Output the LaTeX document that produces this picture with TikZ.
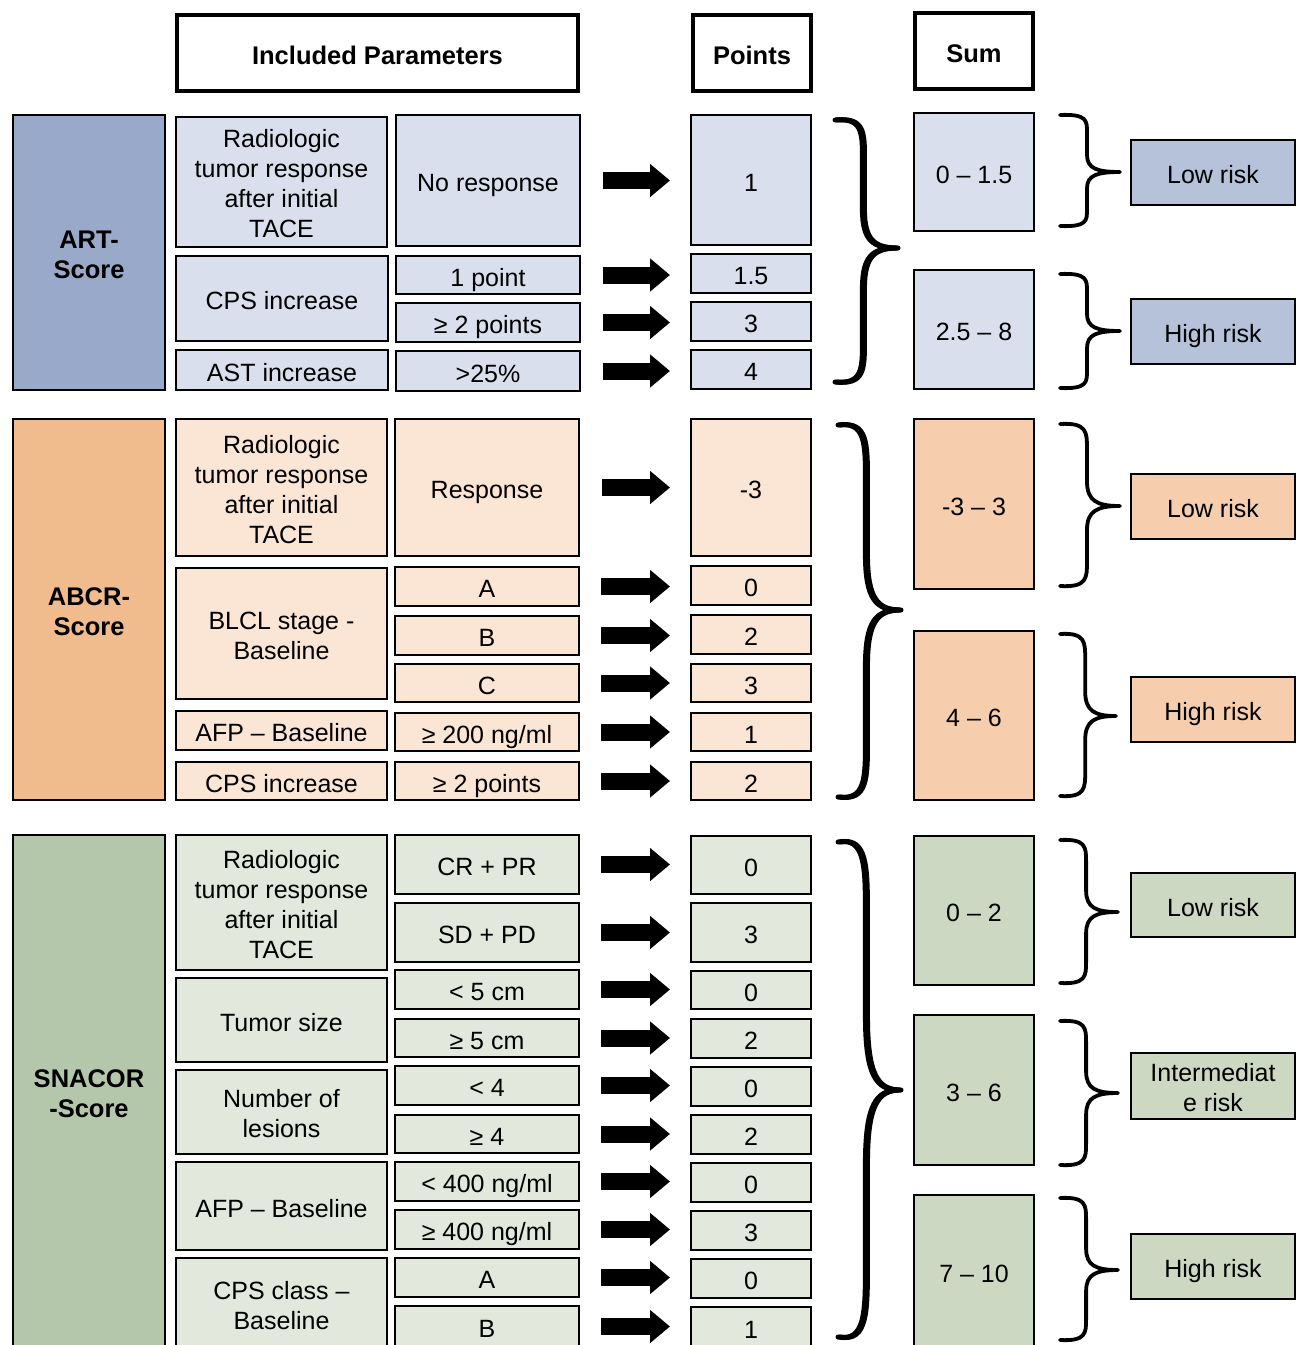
\documentclass[tikz,border=0pt]{standalone}
\usepackage{fontspec}
\setmainfont{Liberation Sans}
\usetikzlibrary{arrows.meta,calc}
\definecolor{artD}{HTML}{98A9C9}
\definecolor{artL}{HTML}{D9DFEC}
\definecolor{artM}{HTML}{B6C2DA}
\definecolor{abcD}{HTML}{F0BB8D}
\definecolor{abcL}{HTML}{FBE5D5}
\definecolor{abcM}{HTML}{F6CEAE}
\definecolor{snaD}{HTML}{B5C7AA}
\definecolor{snaL}{HTML}{E2E9DC}
\definecolor{snaM}{HTML}{CDD8C3}
\newcommand\mystrut{\rule[-5.5pt]{0pt}{33pt}}
\newcommand\tstrut{\rule{0pt}{27pt}}
\newcommand\bstrut{\rule[-5.5pt]{0pt}{5.5pt}}
\tikzset{
  box/.style={draw=black,line width=1.5pt,inner sep=1pt,outer sep=0pt,align=center,
    font=\fontsize{25}{30}\selectfont,
    execute at begin node=\mystrut, execute at end node=\mystrut},
  hdr/.style={line width=4pt,fill=white,font=\fontsize{25.5}{30}\selectfont\bfseries},
  lbl/.style={font=\fontsize{25.5}{30}\selectfont\bfseries},
  bigarrow/.style={line width=17pt,-{Triangle[length=20pt,width=32pt]}},
}
% name, x1, y1, x2, y2, style, text
\newcommand\bx[7]{\node[box,#6,minimum width={(#4-#2)*1pt},minimum height={(#5-#3)*1pt}]
  (#1) at ({(#2+#4)/2},{(#3+#5)/2}) {#7};}
% arrow from value node to points node
\newcommand\arr[3]{\draw[bigarrow] ($(#1.east)+(#3,0)$) -- ($(#2.west |- #1.east)+(-21,0)$);}
% brace: x0, ytop, ybot, ymid, tipx, linewidth
\newcommand\cbrace[6]{%
  \pgfmathsetmacro\bxm{#1+0.45*(#5-#1)}%
  \pgfmathsetmacro\bxq{#1+0.62*(#5-#1)}%
  \pgfmathsetmacro\hu{#4-#2}%
  \pgfmathsetmacro\hd{#3-#4}%
  \draw[line width=#6pt,line cap=round,line join=round]
  (#1,#2) .. controls (\bxm,{#2-0.02*\hu}) and (\bxm,{#2+0.1*\hu}) .. (\bxm,{#2+0.3*\hu})
  -- (\bxm,{#4-0.3*\hu}) .. controls (\bxm,{#4-0.06*\hu}) and (\bxq,#4) .. (#5,#4)
  .. controls (\bxq,#4) and (\bxm,{#4+0.06*\hd}) .. (\bxm,{#4+0.3*\hd})
  -- (\bxm,{#3-0.3*\hd}) .. controls (\bxm,{#3-0.1*\hd}) and (\bxm,{#3+0.02*\hd}) .. (#1,#3);
}
% calligraphic big brace: drawn twice with a small horizontal offset
\newcommand\bigbrace[5]{%
  \cbrace{#1}{#2}{#3}{#4}{#5}{5}%
  \begin{scope}[xshift=2pt]\cbrace{#1}{#2}{#3}{#4}{#5}{5}\end{scope}%
}
\newcommand\radtext{\tstrut Radiologic\\tumor response\\after initial\\TACE\bstrut}
\begin{document}
\begin{tikzpicture}[x=1pt,y=-1pt]
\path[use as bounding box] (0,0) rectangle (1299,1345);
\clip (0,0) rectangle (1299,1345);
\fill[white] (0,0) rectangle (1299,1345);

% headers
\bx{h1}{177}{15}{578}{91}{hdr}{Included Parameters}
\bx{h2}{693}{15}{811}{91}{hdr}{Points}
\bx{h3}{915}{13}{1033}{89}{hdr}{Sum}

% ---------------- ART ----------------
\bx{artS}{13}{115}{165}{390}{fill=artD,lbl}{\tstrut ART-\\Score\bstrut}
\bx{a1p}{176}{117}{387}{247}{fill=artL}{\radtext}
\bx{a1v}{396}{115}{580}{246}{fill=artL}{No response}
\bx{a2p}{176}{256}{388}{341}{fill=artL}{CPS increase}
\bx{a2v}{396}{256}{580}{294}{fill=artL}{1 point}
\bx{a3v}{396}{303}{580}{342}{fill=artL}{≥ 2 points}
\bx{a4p}{176}{350}{388}{390}{fill=artL}{AST increase}
\bx{a4v}{396}{351}{580}{391}{fill=artL}{>25\%}
\bx{a1n}{691}{115}{811}{245}{fill=artL}{1}
\bx{a2n}{691}{254}{811}{293}{fill=artL}{1.5}
\bx{a3n}{691}{302}{811}{341}{fill=artL}{3}
\bx{a4n}{691}{350}{811}{389}{fill=artL}{4}
\arr{a1v}{a1n}{23}\arr{a2v}{a2n}{23}\arr{a3v}{a3n}{23}\arr{a4v}{a4n}{23}
\bx{as1}{914}{113}{1034}{231}{fill=artL}{0 – 1.5}
\bx{as2}{914}{270}{1034}{389}{fill=artL}{2.5 – 8}
\bx{ar1}{1131}{140}{1295}{205}{fill=artM}{Low risk}
\bx{ar2}{1131}{299}{1295}{364}{fill=artM}{High risk}
\bigbrace{835}{120}{382}{248}{896}
\cbrace{1060}{115}{226}{172}{1120}{3.8}
\cbrace{1060}{274}{388}{331}{1120}{3.8}

% ---------------- ABCR ----------------
\bx{abcS}{13}{419}{165}{800}{fill=abcD,lbl}{\tstrut ABCR-\\Score\bstrut}
\bx{b1p}{176}{419}{387}{556}{fill=abcL}{\radtext}
\bx{b1v}{395}{419}{579}{556}{fill=abcL}{Response}
\bx{b2p}{176}{568}{387}{699}{fill=abcL}{\tstrut BLCL stage -\\Baseline\bstrut}
\bx{b2v}{395}{567}{579}{606}{fill=abcL}{A}
\bx{b3v}{395}{616}{579}{655}{fill=abcL}{B}
\bx{b4v}{395}{664}{579}{702}{fill=abcL}{C}
\bx{b5p}{176}{711}{387}{750}{fill=abcL}{AFP – Baseline}
\bx{b5v}{395}{713}{579}{751}{fill=abcL}{≥ 200 ng/ml}
\bx{b6p}{176}{762}{387}{800}{fill=abcL}{CPS increase}
\bx{b6v}{395}{762}{579}{800}{fill=abcL}{≥ 2 points}
\bx{b1n}{691}{419}{811}{556}{fill=abcL}{-3}
\bx{b2n}{691}{566}{811}{605}{fill=abcL}{0}
\bx{b3n}{691}{615}{811}{654}{fill=abcL}{2}
\bx{b4n}{691}{664}{811}{702}{fill=abcL}{3}
\bx{b5n}{691}{713}{811}{751}{fill=abcL}{1}
\bx{b6n}{691}{762}{811}{800}{fill=abcL}{2}
\arr{b1v}{b1n}{23}\arr{b2v}{b2n}{22}\arr{b3v}{b3n}{22}\arr{b4v}{b4n}{22}\arr{b5v}{b5n}{22}\arr{b6v}{b6n}{22}
\bx{bs1}{914}{419}{1034}{589}{fill=abcM}{-3 – 3}
\bx{bs2}{914}{631}{1034}{800}{fill=abcM}{4 – 6}
\bx{br1}{1131}{474}{1295}{539}{fill=abcM}{Low risk}
\bx{br2}{1131}{677}{1295}{742}{fill=abcM}{High risk}
\bigbrace{838}{425}{797}{610}{899}
\cbrace{1060}{424}{586}{506}{1120}{3.8}
\cbrace{1060}{634}{796}{716}{1116}{3.8}

% ---------------- SNACOR ----------------
\bx{snaS}{13}{835}{165}{1349}{fill=snaD,lbl}{\tstrut SNACOR\\-Score\bstrut}
\bx{c1p}{176}{835}{387}{970}{fill=snaL}{\radtext}
\bx{c1v}{395}{835}{579}{894}{fill=snaL}{CR + PR}
\bx{c2v}{395}{903}{579}{962}{fill=snaL}{SD + PD}
\bx{c3p}{176}{978}{387}{1062}{fill=snaL}{Tumor size}
\bx{c3v}{395}{970}{579}{1009}{fill=snaL}{< 5 cm}
\bx{c4v}{395}{1019}{579}{1057}{fill=snaL}{≥ 5 cm}
\bx{c5p}{176}{1070}{387}{1154}{fill=snaL}{\tstrut Number of\\lesions\bstrut}
\bx{c5v}{395}{1066}{579}{1105}{fill=snaL}{< 4}
\bx{c6v}{395}{1115}{579}{1153}{fill=snaL}{≥ 4}
\bx{c7p}{176}{1162}{387}{1250}{fill=snaL}{AFP – Baseline}
\bx{c7v}{395}{1162}{579}{1201}{fill=snaL}{< 400 ng/ml}
\bx{c8v}{395}{1210}{579}{1249}{fill=snaL}{≥ 400 ng/ml}
\bx{c9p}{176}{1258}{387}{1350}{fill=snaL}{\tstrut CPS class –\\Baseline\bstrut}
\bx{c9v}{395}{1258}{579}{1297}{fill=snaL}{A}
\bx{c10v}{395}{1306}{579}{1347}{fill=snaL}{B}
\bx{c1n}{691}{836}{811}{894}{fill=snaL}{0}
\bx{c2n}{691}{903}{811}{962}{fill=snaL}{3}
\bx{c3n}{691}{971}{811}{1009}{fill=snaL}{0}
\bx{c4n}{691}{1019}{811}{1058}{fill=snaL}{2}
\bx{c5n}{691}{1067}{811}{1106}{fill=snaL}{0}
\bx{c6n}{691}{1115}{811}{1154}{fill=snaL}{2}
\bx{c7n}{691}{1163}{811}{1202}{fill=snaL}{0}
\bx{c8n}{691}{1211}{811}{1250}{fill=snaL}{3}
\bx{c9n}{691}{1259}{811}{1298}{fill=snaL}{0}
\bx{c10n}{691}{1307}{811}{1347}{fill=snaL}{1}
\arr{c1v}{c1n}{22}\arr{c2v}{c2n}{22}\arr{c3v}{c3n}{22}\arr{c4v}{c4n}{22}\arr{c5v}{c5n}{22}
\arr{c6v}{c6n}{22}\arr{c7v}{c7n}{22}\arr{c8v}{c8n}{22}\arr{c9v}{c9n}{22}\arr{c10v}{c10n}{22}
\bx{cs1}{914}{836}{1034}{985}{fill=snaM}{0 – 2}
\bx{cs2}{914}{1015}{1034}{1165}{fill=snaM}{3 – 6}
\bx{cs3}{914}{1195}{1034}{1347}{fill=snaM}{7 – 10}
\bx{cr1}{1131}{873}{1295}{937}{fill=snaM}{Low risk}
\bx{cr2}{1131}{1053}{1295}{1119}{fill=snaM}{\tstrut Intermediat\\e risk\bstrut}
\bx{cr3}{1131}{1234}{1295}{1299}{fill=snaM}{High risk}
\bigbrace{838}{842}{1337}{1090}{899}
\cbrace{1060}{840}{983}{912}{1118}{3.8}
\cbrace{1060}{1021}{1165}{1093}{1118}{3.8}
\cbrace{1060}{1198}{1340}{1270}{1118}{3.8}
\end{tikzpicture}
\end{document}
